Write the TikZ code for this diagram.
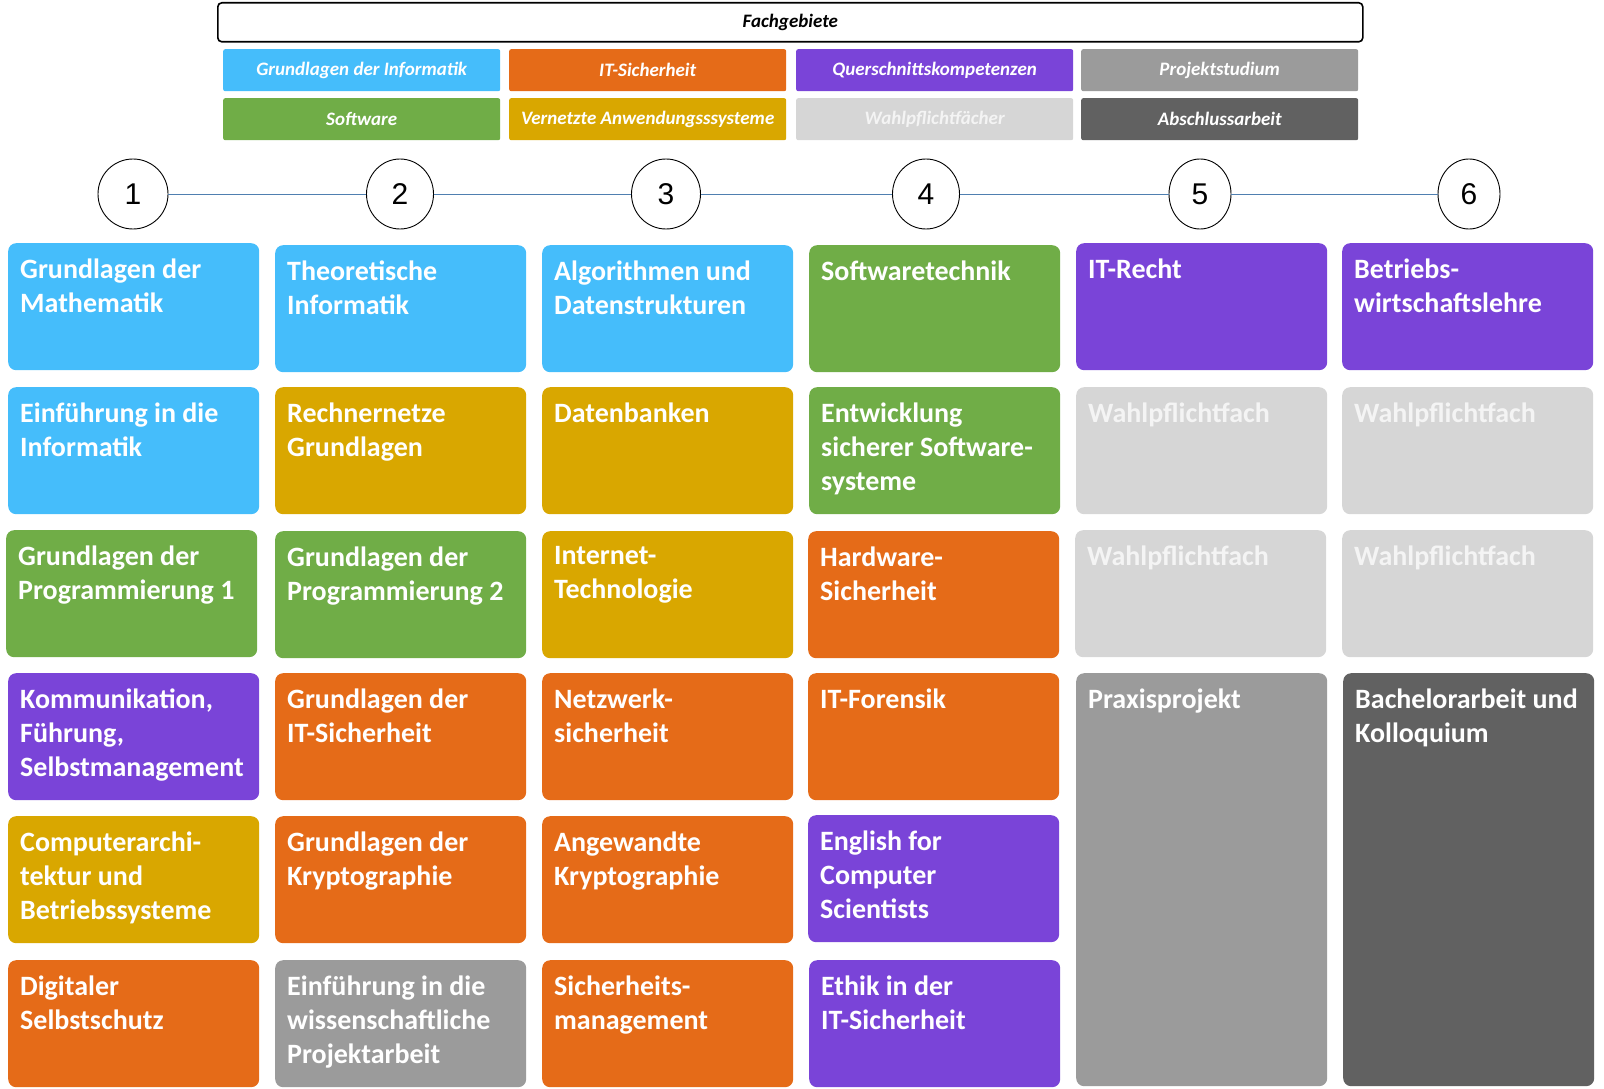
\documentclass[tikz,border=0pt]{standalone}
\usepackage{fontspec}
\setmainfont{Carlito}
\newfontfamily\numfont{Liberation Sans}
\usepackage{xcolor}
\usetikzlibrary{positioning, shapes.geometric}

\definecolor{gdi}{HTML}{45BDFB}
\definecolor{itsec}{HTML}{E56B18}
\definecolor{quer}{HTML}{7A44D8}
\definecolor{projekt}{HTML}{9B9B9B}
\definecolor{soft}{HTML}{70AD47}
\definecolor{vernetzt}{HTML}{D9A700}
\definecolor{wahl}{HTML}{D6D6D6}
\definecolor{abschluss}{HTML}{616161}
\definecolor{zeitlinie}{HTML}{4F7FB0}
\definecolor{blass}{HTML}{F4F4F4}

\tikzset{modh/.store in=\modh, modh=96pt}

\begin{document}
\begin{tikzpicture}[x=1pt, y=-1pt,
  modul/.style={rectangle, rounded corners=8pt, anchor=north west, inner sep=0pt,
    minimum width=251pt, minimum height=127pt, text=white,
    font=\fontsize{28}{34}\selectfont\bfseries,
    execute at begin node={\begin{minipage}[c][\modh][t]{245pt}\raggedright\leftskip=9pt\hyphenpenalty=10000},
    execute at end node={\end{minipage}}},
  hoch/.style={minimum height=413pt, modh=382pt},
  fach/.style={rectangle, rounded corners=2pt, anchor=north west, minimum width=277pt,
    minimum height=42pt, inner sep=0pt, text=white, font=\fontsize{19}{22}\selectfont\bfseries\itshape},
  stufe/.style={ellipse, draw, line width=0.9pt, minimum width=68pt, minimum height=70pt,
    inner sep=0pt, fill=white, font=\numfont\fontsize{30}{36}\selectfont}
]
  \useasboundingbox (0,0) rectangle (1604,1089);

  % Legende
  \node[draw, line width=1.6pt, rounded corners=4pt, anchor=north west, minimum width=1145pt,
    minimum height=39pt, inner sep=0pt, font=\fontsize{19}{22}\selectfont\bfseries\itshape]
    (fachgebiete) at (217,2) {Fachgebiete};
  \node[fach, fill=gdi] (l-gdi) at (223,49) {Grundlagen der Informatik};
  \node[fach, fill=itsec] (l-itsec) at (509,49) {IT-Sicherheit};
  \node[fach, fill=quer] (l-quer) at (796,49) {Querschnittskompetenzen};
  \node[fach, fill=projekt] (l-projekt) at (1081,49) {Projektstudium};
  \node[fach, fill=soft] (l-soft) at (223,98) {Software};
  \node[fach, fill=vernetzt] (l-vernetzt) at (509,98) {Vernetzte Anwendungsssysteme};
  \node[fach, fill=wahl, text=blass] (l-wahl) at (796,98) {Wahlpflichtfächer};
  \node[fach, fill=abschluss] (l-abschluss) at (1081,98) {Abschlussarbeit};

  % Semester
  \foreach \n/\x/\w in {1/133/70, 2/400/67, 3/666/69, 4/926/67, 5/1200/62, 6/1469/62} {
    \node[stufe, minimum width=\w pt] (s\n) at (\x,194) {\n};
  }
  \foreach \a/\b in {1/2, 2/3, 3/4, 4/5, 5/6} {
    \draw[zeitlinie, line width=0.9pt] (s\a) -- (s\b);
  }

  % Semester 1
  \node[modul, fill=gdi] (m11) at (8,243) {Grundlagen der\\Mathematik};
  \node[modul, fill=gdi] (m12) at (8,387) {Einführung in die\\Informatik};
  \node[modul, fill=soft] (m13) at (6,530) {Grundlagen der\\Programmierung 1};
  \node[modul, fill=quer] (m14) at (8,673) {Kommunikation,\\Führung,\\Selbstmanagement};
  \node[modul, fill=vernetzt] (m15) at (8,816) {Computerarchi-\\tektur und\\Betriebssysteme};
  \node[modul, fill=itsec] (m16) at (8,960) {Digitaler\\Selbstschutz};

  % Semester 2
  \node[modul, fill=gdi] (m21) at (275,245) {Theoretische\\Informatik};
  \node[modul, fill=vernetzt] (m22) at (275,387) {Rechnernetze\\Grundlagen};
  \node[modul, fill=soft] (m23) at (275,531) {Grundlagen der\\Programmierung 2};
  \node[modul, fill=itsec] (m24) at (275,673) {Grundlagen der\\IT-Sicherheit};
  \node[modul, fill=itsec] (m25) at (275,816) {Grundlagen der\\Kryptographie};
  \node[modul, fill=projekt] (m26) at (275,960) {Einführung in die\\wissenschaftliche\\Projektarbeit};

  % Semester 3
  \node[modul, fill=gdi] (m31) at (542,245) {Algorithmen und\\Datenstrukturen};
  \node[modul, fill=vernetzt] (m32) at (542,387) {Datenbanken};
  \node[modul, fill=vernetzt] (m33) at (542,531) {Internet-\\Technologie};
  \node[modul, fill=itsec] (m34) at (542,673) {Netzwerk-\\sicherheit};
  \node[modul, fill=itsec] (m35) at (542,816) {Angewandte\\Kryptographie};
  \node[modul, fill=itsec] (m36) at (542,960) {Sicherheits-\\management};

  % Semester 4
  \node[modul, fill=soft] (m41) at (809,245) {Softwaretechnik};
  \node[modul, fill=soft] (m42) at (809,387) {Entwicklung\\sicherer Software-\\systeme};
  \node[modul, fill=itsec] (m43) at (808,531) {Hardware-\\Sicherheit};
  \node[modul, fill=itsec] (m44) at (808,673) {IT-Forensik};
  \node[modul, fill=quer] (m45) at (808,815) {English for\\Computer\\Scientists};
  \node[modul, fill=quer] (m46) at (809,960) {Ethik in der\\IT-Sicherheit};

  % Semester 5
  \node[modul, fill=quer] (m51) at (1076,243) {IT-Recht};
  \node[modul, fill=wahl, text=blass] (m52) at (1076,387) {Wahlpflichtfach};
  \node[modul, fill=wahl, text=blass] (m53) at (1075,530) {Wahlpflichtfach};
  \node[modul, hoch, fill=projekt] (m54) at (1076,673) {Praxisprojekt};

  % Semester 6
  \node[modul, fill=quer] (m61) at (1342,243) {Betriebs-\\wirtschaftslehre};
  \node[modul, fill=wahl, text=blass] (m62) at (1342,387) {Wahlpflichtfach};
  \node[modul, fill=wahl, text=blass] (m63) at (1342,530) {Wahlpflichtfach};
  \node[modul, hoch, fill=abschluss] (m64) at (1343,673) {Bachelorarbeit und\\Kolloquium};
\end{tikzpicture}
\end{document}
